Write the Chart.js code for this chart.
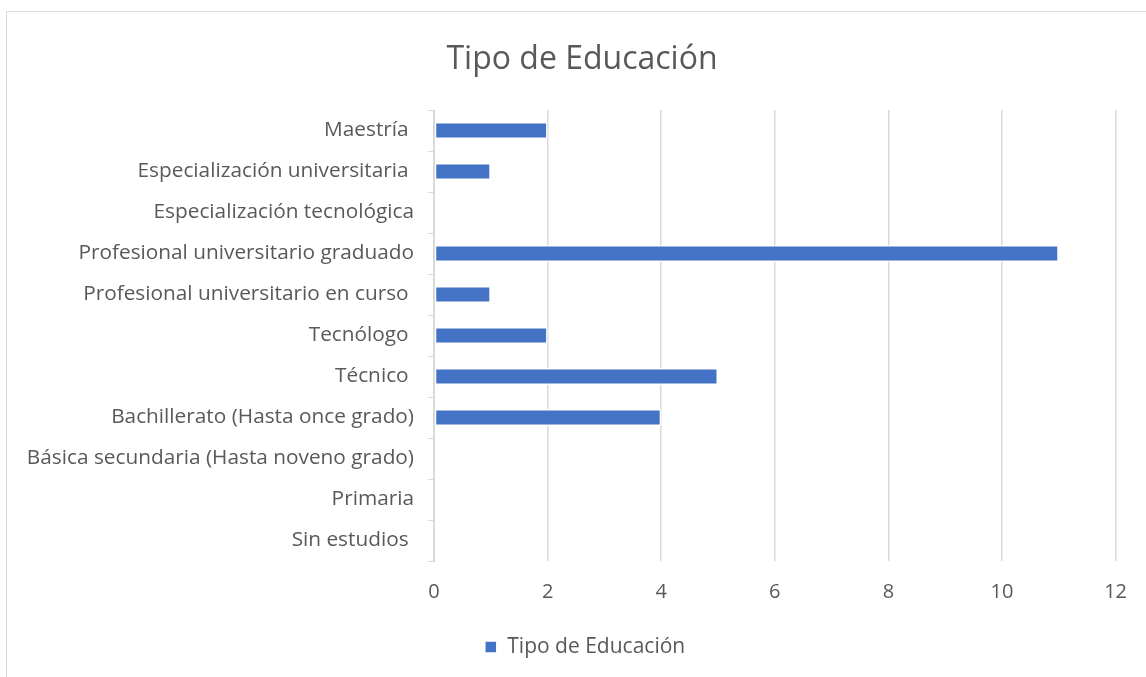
<!DOCTYPE html>
<html>
<head>
<meta charset="utf-8">
<script src="https://cdn.jsdelivr.net/npm/chart.js@4.4.1/dist/chart.umd.min.js"></script>
<style>
html,body{margin:0;padding:0;background:#fff;overflow:hidden;width:1146px;height:677px;}
#frame{position:absolute;left:6px;top:11px;width:1200px;height:720px;border:1px solid #d9d9d9;box-sizing:border-box;}
#wrap{position:absolute;left:0;top:0;width:1146px;height:677px;}
</style>
</head>
<body>
<div id="frame"></div>
<div id="wrap"><canvas id="c" width="1146" height="677"></canvas></div>
<script>
const chartTitle = "Tipo de Educación";
const seriesName = "Tipo de Educación";
const categories = [
  "Maestría ",
  "Especialización universitaria ",
  "Especialización tecnológica",
  "Profesional universitario graduado",
  "Profesional universitario en curso ",
  "Tecnólogo ",
  "Técnico ",
  "Bachillerato (Hasta once grado)",
  "Básica secundaria (Hasta noveno grado)",
  "Primaria",
  "Sin estudios "
];
const values = [2, 1, 0, 11, 1, 2, 5, 4, 0, 0, 0];
const xTicks = [0, 2, 4, 6, 8, 10, 12];

const FONT = "'Open Sans', 'Noto Sans', sans-serif";
const TXT = "#595959";
const GRID = "#d9d9d9";

const shiftBlocks = {
  id: 'shiftBlocks',
  afterLayout(chart) {
    if (chart.titleBlock) chart.titleBlock.left += 47;
    if (chart.legend) chart.legend.left += 53;
  }
};

new Chart(document.getElementById('c'), {
  type: 'bar',
  data: {
    labels: categories,
    datasets: [{
      label: seriesName,
      data: values,
      backgroundColor: '#4472c4',
      borderColor: '#ffffff',
      borderWidth: 1.5,
      borderSkipped: false,
      categoryPercentage: 1,
      barPercentage: 0.41
    }]
  },
  plugins: [shiftBlocks],
  options: {
    indexAxis: 'y',
    responsive: false,
    animation: false,
    devicePixelRatio: 1,
    layout: { padding: { left: 0, right: 29, top: 11, bottom: 9.5 } },
    plugins: {
      title: {
        display: true,
        text: chartTitle,
        color: TXT,
        font: { family: FONT, size: 32, weight: 'normal', lineHeight: 1.2 },
        padding: { top: 29.8, bottom: 30.8 }
      },
      legend: {
        position: 'bottom',
        labels: {
          color: TXT,
          font: { family: FONT, size: 21 },
          boxWidth: 12,
          boxHeight: 12,
          padding: 10
        }
      },
      tooltip: { enabled: false }
    },
    scales: {
      y: {
        afterFit: s => { s.width = 434; },
        grid: { drawOnChartArea: false, drawTicks: true, tickLength: 6, color: GRID, offset: true },
        border: { display: true, color: GRID, width: 1 },
        ticks: { color: TXT, font: { family: FONT, size: 20.8 }, padding: 14 }
      },
      x: {
        min: 0,
        max: 12,
        afterBuildTicks: s => { s.ticks = xTicks.map(v => ({ value: v })); },
        afterFit: s => { s.height = 65.5; },
        grid: { color: GRID, lineWidth: 1.5, drawTicks: false },
        border: { display: false },
        ticks: { color: TXT, font: { family: FONT, size: 20 }, padding: 19 }
      }
    }
  }
});
</script>
</body>
</html>
